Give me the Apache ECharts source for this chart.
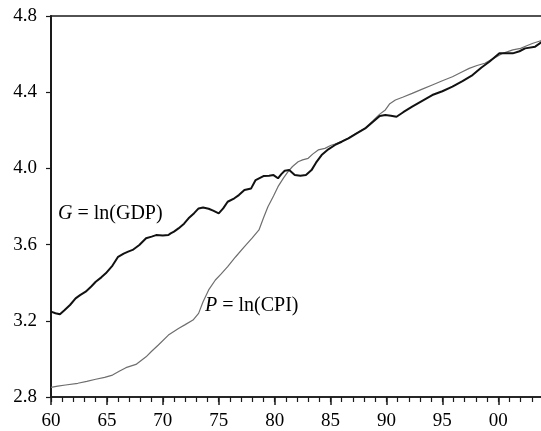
<!DOCTYPE html>
<html>
<head>
<meta charset="utf-8">
<script src="https://cdn.jsdelivr.net/npm/echarts@6/dist/echarts.min.js"></script>
<style>
  html, body { margin: 0; padding: 0; background: #fff; }
  #chart { width: 541px; height: 431px; }
</style>
</head>
<body>
<div id="chart"></div>
<script>
// G = ln(GDP)
const gdpYears = [1960.0, 1960.4, 1960.8, 1961.2, 1961.7, 1962.2, 1962.6, 1963.1, 1963.6, 1964.0,
  1964.5, 1964.9, 1965.5, 1966.0, 1966.5, 1966.9, 1967.3, 1967.9, 1968.5, 1969.0,
  1969.4, 1970.0, 1970.5, 1970.7, 1971.0, 1971.4, 1971.9, 1972.3, 1972.8, 1973.2,
  1973.6, 1974.1, 1974.5, 1975.0, 1975.4, 1975.8, 1976.4, 1976.8, 1977.3, 1977.9,
  1978.3, 1979.0, 1979.5, 1979.9, 1980.3, 1980.6, 1980.9, 1981.3, 1981.8, 1982.3,
  1982.8, 1983.3, 1983.7, 1984.2, 1984.8, 1985.4, 1986.0, 1986.6, 1987.3, 1988.1,
  1988.8, 1989.4, 1989.9, 1990.4, 1990.9, 1991.5, 1992.3, 1993.2, 1994.1, 1995.0,
  1995.9, 1996.8, 1997.7, 1998.5, 1999.2, 2000.1, 2000.7, 2001.3, 2001.9, 2002.4,
  2003.3, 2004.0]
const gdpValues = [3.248, 3.240, 3.234, 3.255, 3.283, 3.318, 3.335, 3.353, 3.380, 3.405,
  3.428, 3.449, 3.490, 3.536, 3.553, 3.563, 3.572, 3.598, 3.633, 3.642,
  3.650, 3.648, 3.650, 3.659, 3.668, 3.685, 3.710, 3.738, 3.765, 3.790,
  3.795, 3.788, 3.778, 3.764, 3.790, 3.825, 3.843, 3.860, 3.887, 3.895,
  3.939, 3.960, 3.962, 3.965, 3.948, 3.970, 3.988, 3.991, 3.965, 3.962,
  3.965, 3.991, 4.030, 4.070, 4.100, 4.123, 4.140, 4.158, 4.183, 4.210,
  4.245, 4.275, 4.280, 4.276, 4.271, 4.295, 4.324, 4.355, 4.385, 4.405,
  4.429, 4.458, 4.490, 4.530, 4.560, 4.604, 4.605, 4.604, 4.615, 4.630,
  4.639, 4.668]

// P = ln(CPI)
const cpiYears = [1960.0, 1960.6, 1961.3, 1962.4, 1963.2, 1964.0, 1964.8, 1965.5, 1966.1, 1966.7,
  1967.6, 1968.5, 1969.0, 1969.6, 1970.5, 1971.4, 1972.0, 1972.7, 1973.2, 1973.6,
  1974.1, 1974.7, 1975.2, 1975.8, 1976.5, 1977.3, 1978.0, 1978.6, 1979.0, 1979.4,
  1979.9, 1980.3, 1980.8, 1981.2, 1981.6, 1982.1, 1982.5, 1983.0, 1983.4, 1983.9,
  1984.5, 1985.0, 1985.4, 1986.0, 1986.6, 1987.3, 1988.1, 1988.8, 1989.4, 1989.9,
  1990.3, 1990.8, 1991.5, 1992.3, 1993.2, 1994.1, 1995.0, 1995.9, 1996.7, 1997.4,
  1998.1, 1998.8, 1999.5, 2000.4, 2001.3, 2002.0, 2002.6, 2003.1, 2003.8, 2004.0]
const cpiValues = [2.851, 2.857, 2.863, 2.872, 2.882, 2.893, 2.903, 2.915, 2.935, 2.954,
  2.971, 3.011, 3.040, 3.073, 3.125, 3.160, 3.180, 3.204, 3.239, 3.300,
  3.362, 3.414, 3.445, 3.484, 3.535, 3.589, 3.635, 3.677, 3.740, 3.799,
  3.855, 3.904, 3.950, 3.983, 4.010, 4.035, 4.045, 4.053, 4.075, 4.097,
  4.105, 4.120, 4.128, 4.142, 4.160, 4.185, 4.212, 4.250, 4.285, 4.307,
  4.340, 4.359, 4.375, 4.394, 4.416, 4.438, 4.460, 4.481, 4.505, 4.525,
  4.540, 4.552, 4.575, 4.604, 4.622, 4.630, 4.645, 4.657, 4.670, 4.680]

const yearTicks = [1960, 2004]
const valueTicks = [2.8, 4.8]

const zip = (xs, ys) => xs.map((x, i) => [x, ys[i]])

const chart = echarts.init(document.getElementById('chart'))
const serif = '"Liberation Serif", "DejaVu Serif", serif'
const ink = '#1a1a1a'

// tick marks are drawn as split lines of thin helper grids under / left of the plot
const hidden = { show: false, splitLine: { show: false } }
const yearAxis = (gridIndex, interval, width) => ({
  type: 'value', gridIndex, min: yearTicks[0], max: yearTicks[1], interval,
  axisLine: { show: false }, axisTick: { show: false }, axisLabel: { show: false },
  splitLine: { show: true, showMinLine: true, showMaxLine: true, lineStyle: { color: ink, width } }
})

const option = {
  backgroundColor: '#fff',
  animation: false,
  grid: [
    { left: 51, right: -2, top: 16, bottom: 34, outerBoundsMode: 'none',
      show: true, borderColor: ink, borderWidth: 1.5 },
    { left: 51, right: -2, top: 397, height: 8, outerBoundsMode: 'none' },  // 5-year ticks
    { left: 51, right: -2, top: 397, height: 5, outerBoundsMode: 'none' },  // yearly ticks
    { left: 46, width: 5, top: 16, bottom: 34, outerBoundsMode: 'none' }    // value ticks
  ],
  xAxis: [
    {
      type: 'value',
      gridIndex: 0,
      min: yearTicks[0],
      max: yearTicks[1],
      interval: 5,
      axisLine: { show: true, lineStyle: { color: ink, width: 1.5 } },
      axisTick: { show: false },
      splitLine: { show: false },
      axisLabel: {
        margin: 15,
        color: '#000',
        fontFamily: serif,
        fontSize: 19,
        showMaxLabel: false,
        formatter: v => String(v % 100).padStart(2, '0')
      }
    },
    yearAxis(1, 5, 1.5),
    yearAxis(2, 1, 1.2),
    Object.assign({ type: 'value', gridIndex: 3 }, hidden)
  ],
  yAxis: [
    {
      type: 'value',
      gridIndex: 0,
      min: valueTicks[0],
      max: valueTicks[1],
      interval: 0.4,
      axisLine: { show: true, lineStyle: { color: ink, width: 2 } },
      axisTick: { show: false },
      splitLine: { show: false },
      axisLabel: {
        margin: 14,
        color: '#000',
        fontFamily: serif,
        fontSize: 19,
        formatter: v => v.toFixed(1)
      }
    },
    Object.assign({ type: 'value', gridIndex: 1 }, hidden),
    Object.assign({ type: 'value', gridIndex: 2 }, hidden),
    {
      type: 'value', gridIndex: 3, min: valueTicks[0], max: valueTicks[1], interval: 0.4,
      axisLine: { show: false }, axisTick: { show: false }, axisLabel: { show: false },
      splitLine: { show: true, showMinLine: true, showMaxLine: true, lineStyle: { color: ink, width: 1.2 } }
    }
  ],
  series: [
    {
      name: 'P = ln(CPI)',
      type: 'line',
      xAxisIndex: 0,
      yAxisIndex: 0,
      data: zip(cpiYears, cpiValues),
      showSymbol: false,
      lineStyle: { color: '#6e6e6e', width: 1.2 },
      z: 2
    },
    {
      name: 'G = ln(GDP)',
      type: 'line',
      xAxisIndex: 0,
      yAxisIndex: 0,
      data: zip(gdpYears, gdpValues),
      showSymbol: false,
      lineStyle: { color: '#111', width: 2 },
      z: 3
    }
  ],
  graphic: [
    {
      type: 'text',
      left: 58,
      top: 204,
      style: {
        text: '{i|G} = ln(GDP)',
        fill: '#000',
        font: '20px ' + serif,
        rich: { i: { fontStyle: 'italic', fontFamily: serif, fontSize: 20, fill: '#000' } }
      }
    },
    {
      type: 'text',
      left: 205,
      top: 296,
      style: {
        text: '{i|P} = ln(CPI)',
        fill: '#000',
        font: '20px ' + serif,
        rich: { i: { fontStyle: 'italic', fontFamily: serif, fontSize: 20, fill: '#000' } }
      }
    }
  ]
}

chart.setOption(option)
</script>
</body>
</html>
